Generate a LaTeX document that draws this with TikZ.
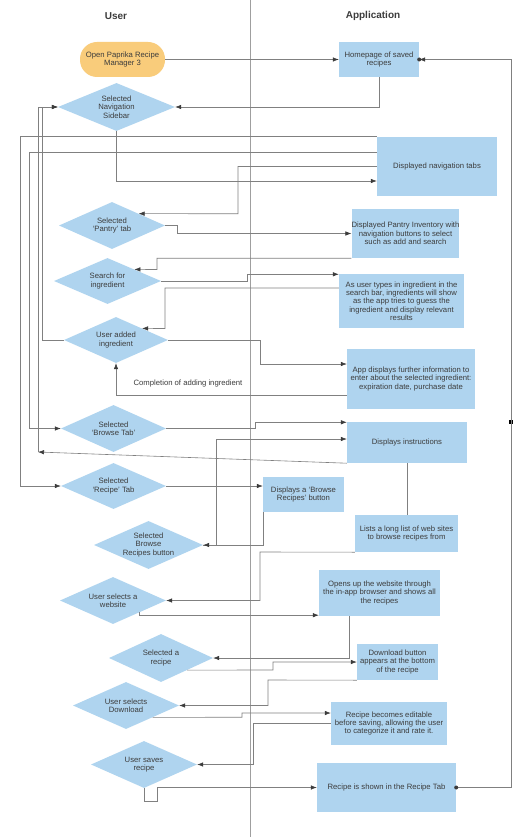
\documentclass[tikz,border=0pt]{standalone}
\usepackage{fontspec}
\setmainfont{Liberation Sans}
\usetikzlibrary{arrows.meta,shapes.geometric}
\definecolor{boxblue}{HTML}{AFD4EF}
\definecolor{pillorange}{HTML}{F9CC7B}
\definecolor{linegray}{HTML}{808080}
\definecolor{ink}{HTML}{3C3C3C}

\begin{document}
\begin{tikzpicture}[x=1pt, y=-1pt,
	every node/.style={font=\fontsize{7.7}{8.3}\selectfont, text=ink, align=center, inner sep=0pt},
	task/.style={fill=boxblue},
	choice/.style={diamond, aspect=2.2, fill=boxblue},
	pill/.style={fill=pillorange, rounded corners=17pt},
	head/.style={font=\fontsize{10}{11}\selectfont\bfseries},
	link/.style={draw=linegray, line width=0.6pt},
	flow/.style={link, -{Latex[length=6pt,width=4.5pt,color=ink]}},
	lane/.style={draw=gray!75, line width=0.6pt}]
		%%%%% START %%%%%
		
		\useasboundingbox[fill=white] (0,0) rectangle (521,837);
		\draw[lane] (250,0) -- (250,837);
		
		\node[head] (userhead) at (116,16) {User};
		\node[head] (apphead) at (373,16) {Application};
		
		\node[pill, minimum width=85, minimum height=35] (open) at (122.5,59.5) {Open Paprika Recipe\\Manager 3};
		
		\node[task, minimum width=80, minimum height=35] (home) at (379,59.5) {Homepage of saved\\recipes};
		\node[task, minimum width=120, minimum height=59] (navtabs) at (437,166.5) {Displayed navigation tabs};
		\node[task, minimum width=107, minimum height=49] (pantryinv) at (405.5,233.5) {Displayed Pantry Inventory with\\navigation buttons to select\\such as add and search};
		\node[task, minimum width=125, minimum height=54] (suggest) at (401.5,301) {As user types in ingredient in the\\search bar, ingredients will show\\as the app tries to guess the\\ingredient and display relevant\\results};
		\node[task, minimum width=128, minimum height=60] (details) at (411,379) {App displays further information to\\enter about the selected ingredient:\\expiration date, purchase date};
		\node[task, minimum width=120, minimum height=41] (instr) at (407,442.5) {Displays instructions};
		\node[task, minimum width=81, minimum height=35] (browsebtn) at (303.5,494.5) {Displays a `Browse\\Recipes' button};
		\node[task, minimum width=103, minimum height=37] (sites) at (406.5,533.5) {Lists a long list of web sites\\to browse recipes from};
		\node[task, minimum width=121, minimum height=46] (website) at (379.5,593) {Opens up the website through\\the in-app browser and shows all\\the recipes};
		\node[task, minimum width=81, minimum height=36] (dlbtn) at (397.5,662) {Download button\\appears at the bottom\\of the recipe};
		\node[task, minimum width=116, minimum height=43] (editable) at (389,723.5) {Recipe becomes editable\\before saving, allowing the user\\to categorize it and rate it.};
		\node[task, minimum width=139, minimum height=49] (shown) at (386.5,787.5) {Recipe is shown in the Recipe Tab};
		
		\node[choice, minimum width=117, minimum height=48] (navbar) at (116.5,107) {Selected\\Navigation\\Sidebar};
		\node[choice, minimum width=106, minimum height=47] (pantrytab) at (112,225.5) {Selected\\`Pantry' tab};
		\node[choice, minimum width=107, minimum height=46] (search) at (107.5,281) {Search for\\ingredient};
		\node[choice, minimum width=104, minimum height=46] (added) at (116,340) {User added\\ingredient};
		\node[choice, minimum width=105, minimum height=47] (browsetab) at (113.5,428.5) {Selected\\`Browse Tab'};
		\node[choice, minimum width=105, minimum height=46] (recipetab) at (113.5,486) {Selected\\`Recipe' Tab};
		\node[choice, minimum width=109, minimum height=48] (browserecipes) at (148.5,545) {Selected\\Browse\\Recipes button};
		\node[choice, minimum width=106, minimum height=47] (pickweb) at (113,600.5) {User selects a\\website};
		\node[choice, minimum width=104, minimum height=48] (pickrecipe) at (161,658) {Selected a\\recipe};
		\node[choice, minimum width=106, minimum height=47] (download) at (126,705.5) {User selects\\Download};
		\node[choice, minimum width=106, minimum height=47] (save) at (144,764.5) {User saves\\recipe};
		
		\node (donelbl) at (188,384) {Completion of adding ingredient};
		\coordinate (backjoin) at (38,452);
		\node[fill=black, inner sep=1.8pt] (mark) at (511,422) {};
		
		\draw[flow] (open.east) -- (home.west);
		\draw[flow] (home.south) |- (navbar.east);
		\draw[flow] (navbar.south) |- ([yshift=-14.5pt]navtabs.west);
		\draw[flow] (navtabs.west) -| (238,213.75) -- (pantrytab.north east);
		\draw[flow] ([yshift=14.5pt]navtabs.west) -| (29,428.5) -- (browsetab.west);
		\draw[flow] (navtabs.north west) -| (20,486) -- (recipetab.west);
		\draw[flow] (pantrytab.east) -- (177,225.5) |- (pantryinv.west);
		\draw[flow] (pantryinv.south west) -| (157,269.5) -- (search.north east);
		\draw[flow] (search.east) -- (247,281) |- ([yshift=-0.5pt]suggest.north west);
		\draw[flow] ([yshift=13pt]suggest.west) -| (165,328.5) -- (added.north east);
		\draw[flow] (added.east) -- (260,340) |- ([yshift=15pt]details.west);
		\draw[flow] ([yshift=-16pt]details.west) -| (added.south);
		\draw[flow] (added.west) -- (42,340) |- (navbar.west);
		\draw[flow] (browsetab.east) -- (255,428.5) |- ([yshift=-0.5pt]instr.north west);
		\draw[flow] (browserecipes.east) -- (216,545) |- ([yshift=3.5pt]instr.west);
		\draw[flow] (instr.south west) -- (backjoin);
		\draw[flow] (backjoin) |- (navbar.west);
		\draw[flow] (recipetab.east) -- (recipetab.east -| browsebtn.west);
		\draw[flow] (browsebtn.south west) |- (browserecipes.east);
		\draw[link] (instr.south) -- (instr.south |- sites.north);
		\draw[flow] (sites.south west) -- (260,552) |- (pickweb.east);
		\draw[flow] (pickweb.south east) |- ([yshift=1pt]website.south west);
		\draw[flow] ([xshift=-30.5pt]website.south) |- (pickrecipe.east);
		\draw[flow] (pickrecipe.south east) -- (273,670) |- (dlbtn.west);
		\draw[flow] (dlbtn.south west) -- (268,680) |- (download.east);
		\draw[flow] (download.south east) -- (242,717.25) |- ([yshift=10.5pt]editable.west);
		\draw[flow] (editable.west) -- (253,723.5) |- (save.east);
		\draw[flow] (save.south) |- (157,801) |- (shown.west);
		\draw[flow] (shown.east) -- (511,787.5) |- (home.east);
		\fill[ink] (shown.east) circle (2pt);
		\fill[ink] (home.east) circle (2pt);
		
		%%%%% END %%%%%
	\end{tikzpicture}
\end{document}
